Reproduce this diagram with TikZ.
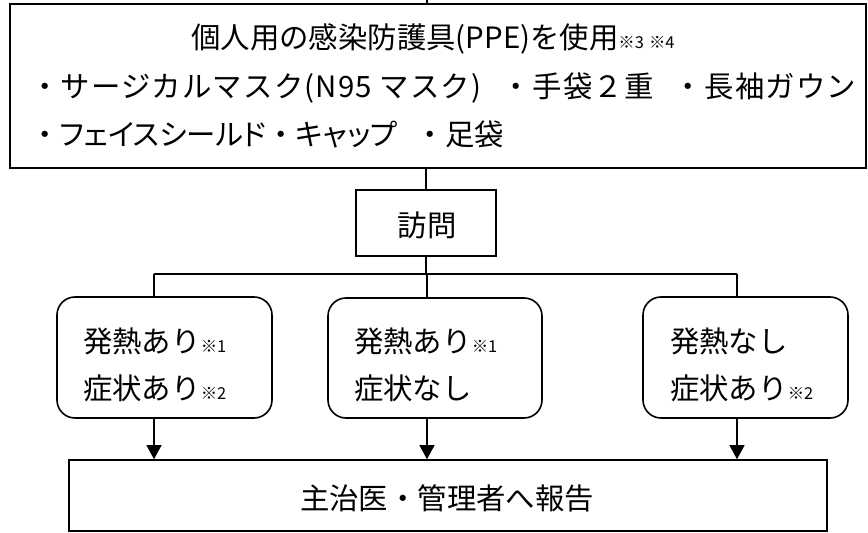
\documentclass[tikz,border=0pt]{standalone}
\usepackage{fontspec}
\setmainfont{Noto Sans CJK JP}
\newfontfamily\palfont[RawFeature=+palt]{Noto Sans CJK JP}
\newfontfamily\widefont[LetterSpace=4]{Noto Sans CJK JP}
\usetikzlibrary{arrows.meta}
\begin{document}
\begin{tikzpicture}[x=1bp,y=-1bp,
  box/.style={draw, line width=1.6bp, inner sep=0pt},
  rbox/.style={draw, line width=1.6bp, rounded corners=18bp, inner sep=0pt},
  conn/.style={line width=1.1bp},
  arr/.style={line width=1.1bp, -{Triangle[length=14bp,width=15bp]}},
  txt/.style={font=\fontsize{29.5}{34}\selectfont, inner sep=0pt}
]
\useasboundingbox (0,0) rectangle (868,533);
\newcommand{\nt}[1]{{\fontsize{16.5}{18}\selectfont #1}}
% boxes
\node[box, minimum width=856bp, minimum height=164bp] (ppe) at (438,86) {};
\node[box, minimum width=140bp, minimum height=66bp] (visit) at (426,223) {};
\node[rbox, minimum width=215bp, minimum height=121bp] (lbox) at (164.5,357.5) {};
\node[rbox, minimum width=214bp, minimum height=120bp] (mbox) at (435,358) {};
\node[rbox, minimum width=205bp, minimum height=121bp] (rbx) at (745.5,357.5) {};
\node[box, minimum width=758bp, minimum height=71bp] (rep) at (448,495.5) {};
% texts
\node[txt, anchor=base] (t1) at (433,49) {個人用の感染防護具(PPE)を使用\nt{※3\hspace{5bp}※4}};
\node[txt, anchor=base west] (t2) at (30,98) {\makebox[826bp][l]{\widefont ・サージカルマスク(N95 マスク)\hfill・手袋２重\hfill・長袖ガウン}};
\node[txt, anchor=base west] (t3) at (30,146) {・{\palfont フェイスシールド}・{\palfont キャップ}\hspace{18bp}・足袋};
\node[txt] (tv) at (427,225) {訪問};
\node[txt, anchor=base west] (l1) at (83,352) {発熱あり\nt{※1}};
\node[txt, anchor=base west] (l2) at (83,399) {症状あり\nt{※2}};
\node[txt, anchor=base west] (m1) at (354,352) {発熱あり\nt{※1}};
\node[txt, anchor=base west] (m2) at (354,399) {症状なし};
\node[txt, anchor=base west] (r1) at (670,352) {発熱なし};
\node[txt, anchor=base west] (r2) at (670,399) {症状あり\nt{※2}};
\node[txt] (tr) at (447,498) {主治医・管理者へ報告};
% connectors
\coordinate (top) at (427,0);
\coordinate (b1) at (154,274);
\coordinate (b2) at (427,274);
\coordinate (b3) at (737,274);
\draw[conn] (top) -- (top |- ppe.north);
\draw[conn] (visit.north |- ppe.south) -- (visit.north);
\draw[conn] (visit.south) -- (visit.south |- b2);
\draw[conn] (b1) -- (b3);
\draw[conn] (b1) -- (b1 |- lbox.north);
\draw[conn] (b2) -- (b2 |- mbox.north);
\draw[conn] (b3) -- (b3 |- rbx.north);
\draw[arr] (b1 |- lbox.south) -- (b1 |- rep.north);
\draw[arr] (b2 |- mbox.south) -- (b2 |- rep.north);
\draw[arr] (b3 |- rbx.south) -- (b3 |- rep.north);
\end{tikzpicture}
\end{document}
